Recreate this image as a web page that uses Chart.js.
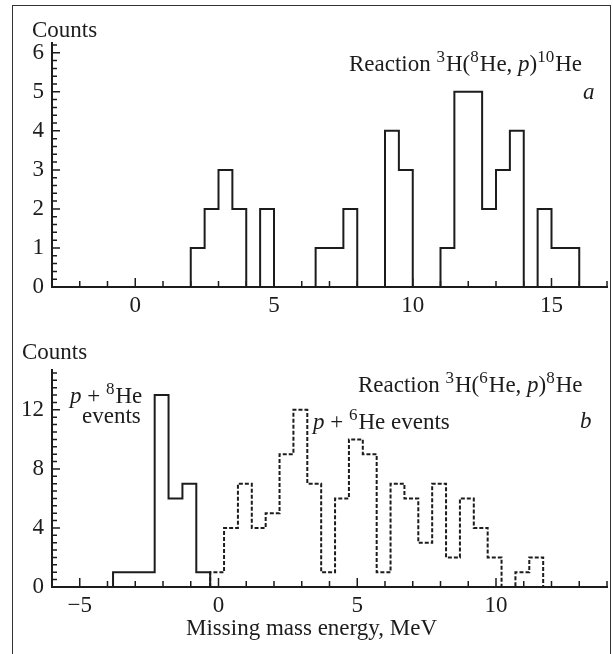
<!DOCTYPE html>
<html lang="en">
<head>
  <meta charset="UTF-8">
  <script src="https://cdn.jsdelivr.net/npm/chart.js"></script>
  <title>Missing mass spectra</title>
  <style>
    body{margin:0; background:#fff; overflow:hidden;}
    #frame{position:absolute; left:12px; top:5px; width:599px; height:700px; box-sizing:border-box; border:1.5px solid #333;}
    #topChart{position:absolute; left:0; top:0;}
    #bottomChart{position:absolute; left:0; top:320px;}
  </style>
</head>
<body>
  <div id="frame"></div>
  <canvas id="topChart" width="613" height="320"></canvas>
  <canvas id="bottomChart" width="613" height="334"></canvas>
  <script>
    // panel a: 3H(8He,p)10He, bins of 0.5 MeV
    const topEdges = [2, 2.5, 3, 3.5, 4, 4.5, 5, 5.5, 6, 6.5, 7, 7.5, 8, 8.5, 9, 9.5, 10,
                      10.5, 11, 11.5, 12, 12.5, 13, 13.5, 14, 14.5, 15, 15.5, 16];
    const topCounts = [1, 2, 3, 2, 0, 2, 0, 0, 0, 1, 1, 2, 0, 0, 4, 3,
                       0, 0, 1, 5, 5, 2, 3, 4, 0, 2, 1, 1];

    // panel b: 3H(6He,p)8He
    const p8Edges = [-3.8, -3.3, -2.8, -2.3, -1.8, -1.3, -0.8, -0.3];
    const p8Counts = [1, 1, 1, 13, 6, 7, 1];
    const p6Edges = [-0.3, 0.2, 0.7, 1.2, 1.7, 2.2, 2.7, 3.2, 3.7, 4.2, 4.7, 5.2, 5.7,
                     6.2, 6.7, 7.2, 7.7, 8.2, 8.7, 9.2, 9.7, 10.2, 10.7, 11.2, 11.7];
    const p6Counts = [1, 4, 7, 4, 5, 9, 12, 7, 1, 6, 10, 9, 1, 7, 6, 3, 7, 2, 6, 4, 2, 0, 1, 2];

    // tick labels
    const topXLabels = [0, 5, 10, 15];
    const topYLabels = [0, 1, 2, 3, 4, 5, 6];
    const botXLabels = [-5, 0, 5, 10];
    const botYLabels = [0, 4, 8, 12];

    const ink = '#1c1c1c';
    const serif = '"Liberation Serif", "Times New Roman", serif';
    const fontSize = 23;

    // corners of a histogram outline
    function outline(edges, counts) {
      const pts = [{x: edges[0], y: 0}];
      counts.forEach((c, i) => {
        pts.push({x: edges[i], y: c});
        pts.push({x: edges[i + 1], y: c});
      });
      pts.push({x: edges[edges.length - 1], y: 0});
      return pts;
    }

    function drawRich(ctx, x, y, segs) {
      let cx = x;
      segs.forEach(([t, k]) => {
        const sup = k.indexOf('s') >= 0;
        const it = k.indexOf('i') >= 0;
        ctx.font = (it ? 'italic ' : '') + (sup ? 17 : fontSize) + 'px ' + serif;
        ctx.fillText(t, cx, sup ? y - 9 : y);
        cx += ctx.measureText(t).width + (sup ? 1 : 0);
      });
    }

    // inward tick marks + text labels
    const decor = {
      id: 'decor',
      afterDraw(chart, args, o) {
        const ctx = chart.ctx, a = chart.chartArea;
        const xs = chart.scales.x, ys = chart.scales.y;
        ctx.save();
        ctx.strokeStyle = ink;
        ctx.lineWidth = 1.5;
        ctx.beginPath();
        let n = Math.round((xs.max - xs.min) / o.xStep);
        for (let i = 0; i <= n; i++) {
          const v = xs.min + i * o.xStep;
          const px = xs.getPixelForValue(v);
          const len = o.xMajor.some(m => Math.abs(m - v) < 1e-6) ? 9 : 6;
          ctx.moveTo(px, a.bottom);
          ctx.lineTo(px, a.bottom - len);
        }
        n = Math.floor((ys.max - ys.min) / o.yStep + 1e-6);
        for (let i = 0; i <= n; i++) {
          const v = ys.min + i * o.yStep;
          const py = ys.getPixelForValue(v);
          const len = o.yMajor.some(m => Math.abs(m - v) < 1e-6) ? 8 : 5;
          ctx.moveTo(a.left, py);
          ctx.lineTo(a.left + len, py);
        }
        ctx.stroke();
        ctx.fillStyle = ink;
        ctx.textBaseline = 'alphabetic';
        ctx.textAlign = 'left';
        o.texts.forEach(t => drawRich(ctx, t.x, t.y, t.segs));
        ctx.restore();
      }
    };

    function axes(xmin, xmax, ymax, xLabels, yLabels, xHeight) {
      const tickFont = {family: serif, size: fontSize};
      return {
        x: {
          type: 'linear', min: xmin, max: xmax,
          grid: {display: false, drawTicks: false},
          border: {display: true, color: ink, width: 2},
          ticks: {
            font: tickFont, color: ink, padding: 5, maxRotation: 0,
            callback: v => v < 0 ? '\u2212' + Math.abs(v) : '' + v
          },
          afterBuildTicks: s => { s.ticks = xLabels.map(v => ({value: v})); },
          afterFit: s => { s.height = xHeight; }
        },
        y: {
          type: 'linear', min: 0, max: ymax,
          grid: {display: false, drawTicks: false},
          border: {display: true, color: ink, width: 2},
          ticks: {font: tickFont, color: ink, padding: 8},
          afterBuildTicks: s => { s.ticks = yLabels.map(v => ({value: v})); },
          afterFit: s => { s.width = 52; }
        }
      };
    }

    const lineStyle = {
      borderColor: ink, borderWidth: 2, pointRadius: 0, fill: false,
      tension: 0, borderJoinStyle: 'miter', borderCapStyle: 'butt'
    };

    new Chart(document.getElementById('topChart'), {
      type: 'line',
      data: {
        datasets: [Object.assign({label: 'a', data: outline(topEdges, topCounts)}, lineStyle)]
      },
      options: {
        responsive: false, animation: false, parsing: false,
        layout: {padding: {left: 0, right: 6, top: 43, bottom: 0}},
        scales: axes(-3, 17, 6.25, topXLabels, topYLabels, 33),
        plugins: {
          legend: {display: false}, tooltip: {enabled: false},
          decor: {
            xStep: 1, yStep: 0.2, xMajor: topXLabels, yMajor: topYLabels,
            texts: [
              {x: 32, y: 37, segs: [['Counts', '']]},
              {x: 349, y: 71, segs: [['Reaction ', ''], ['3', 's'], ['H(', ''], ['8', 's'],
                ['He, ', ''], ['p', 'i'], [')', ''], ['10', 's'], ['He', '']]},
              {x: 583, y: 99, segs: [['a', 'i']]}
            ]
          }
        }
      },
      plugins: [decor]
    });

    new Chart(document.getElementById('bottomChart'), {
      type: 'line',
      data: {
        datasets: [
          Object.assign({label: 'p + 8He', data: outline(p8Edges, p8Counts)}, lineStyle),
          Object.assign({label: 'p + 6He', data: outline(p6Edges, p6Counts), borderDash: [4, 2]}, lineStyle)
        ]
      },
      options: {
        responsive: false, animation: false, parsing: false,
        layout: {padding: {left: 0, right: 6, top: 50, bottom: 0}},
        scales: axes(-6, 14, 14.7, botXLabels, botYLabels, 67),
        plugins: {
          legend: {display: false}, tooltip: {enabled: false},
          decor: {
            xStep: 1, yStep: 0.5, xMajor: botXLabels, yMajor: botYLabels,
            texts: [
              {x: 22, y: 39, segs: [['Counts', '']]},
              {x: 358, y: 72, segs: [['Reaction ', ''], ['3', 's'], ['H(', ''], ['6', 's'],
                ['He, ', ''], ['p', 'i'], [')', ''], ['8', 's'], ['He', '']]},
              {x: 580, y: 108, segs: [['b', 'i']]},
              {x: 70, y: 83, segs: [['p', 'i'], [' + ', ''], ['8', 's'], ['He', '']]},
              {x: 82, y: 103, segs: [['events', '']]},
              {x: 313, y: 109, segs: [['p', 'i'], [' + ', ''], ['6', 's'], ['He events', '']]},
              {x: 186, y: 315, segs: [['Missing mass energy, MeV', '']]}
            ]
          }
        }
      },
      plugins: [decor]
    });
  </script>
</body>
</html>
